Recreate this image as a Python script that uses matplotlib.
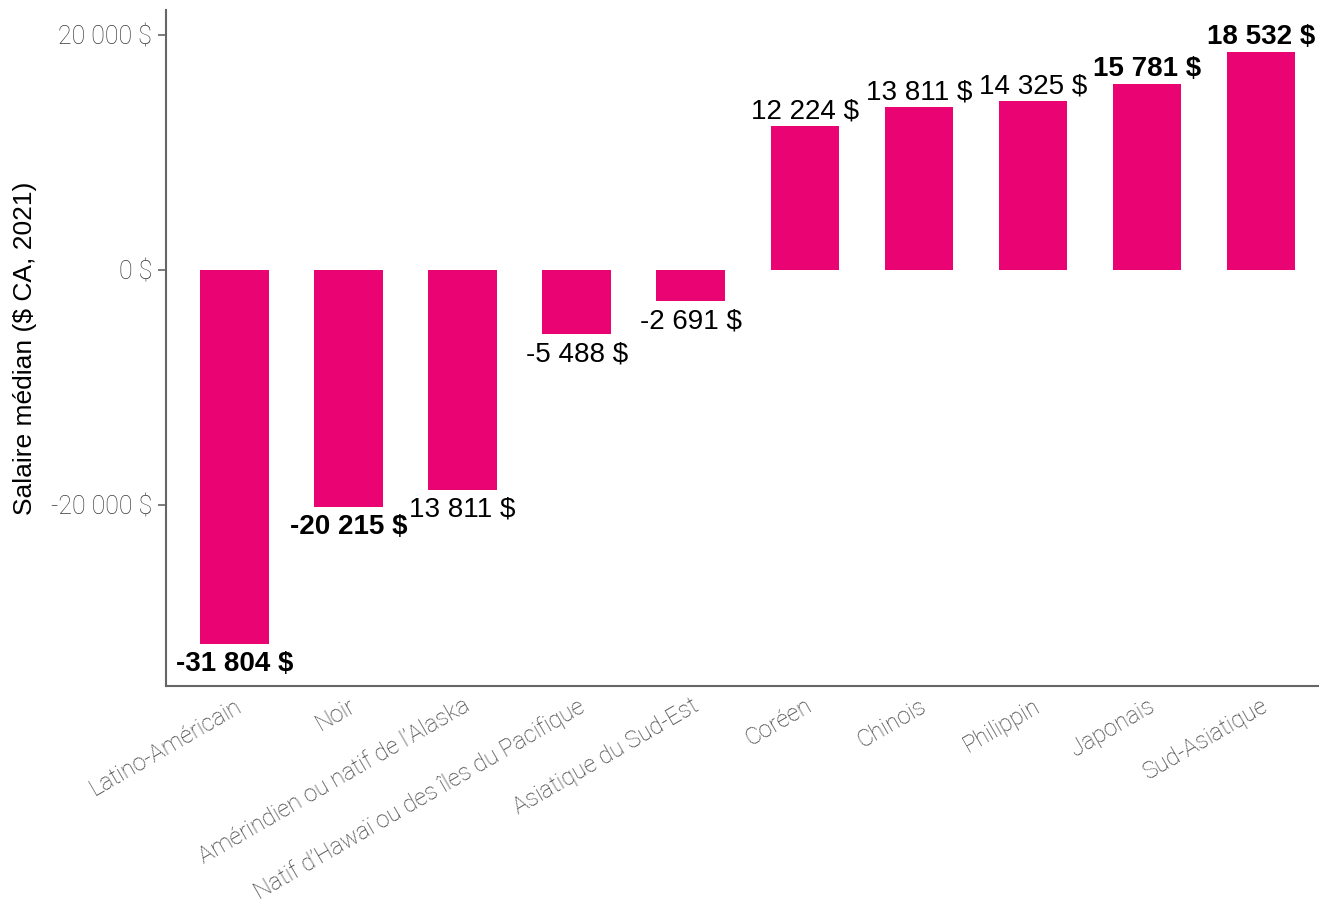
import matplotlib
matplotlib.use("Agg")
import matplotlib.pyplot as plt
import numpy as np

categories = ["Latino-Américain", "Noir", "Amérindien ou natif de l’Alaska",
              "Natif d’Hawaï ou des îles du Pacifique", "Asiatique du Sud-Est",
              "Coréen", "Chinois", "Philippin", "Japonais", "Sud-Asiatique"]
values = [-31804, -20215, -18700, -5488, -2691, 12224, 13811, 14325, 15781, 18532]
value_labels = ["-31 804 $", "-20 215 $", "13 811 $", "-5 488 $", "-2 691 $",
                "12 224 $", "13 811 $", "14 325 $", "15 781 $", "18 532 $"]
bold_labels = [True, True, False, False, False, False, False, False, True, True]
y_ticks = [-20000, 0, 20000]
y_tick_labels = ["-20 000 $", "0 $", "20 000 $"]

BAR = "#EA0372"
GREY = "#666666"
TICK_TXT = "#3a3a3a"

fig = plt.figure(figsize=(13.19, 9.09), dpi=100)
ax = fig.add_axes([0.1259, 0.2453, 0.8733, 0.7437])

x = np.arange(len(categories))
ax.bar(x, values, width=0.6, color=BAR, zorder=2)

for xi, v, lab, b in zip(x, values, value_labels, bold_labels):
    if v >= 0:
        off, va = 1.5, "bottom"
    else:
        off, va = -5, "top"
    ax.annotate(lab, (xi, v), xytext=(0, off), textcoords="offset points",
                ha="center", va=va, fontsize=20, family="Liberation Sans",
                fontweight="bold" if b else "normal", color="black")

ax.set_xlim(-0.6, 9.5)
ax.set_ylim(-35400, 22100)

ax.set_yticks(y_ticks)
ax.set_yticklabels(y_tick_labels, fontsize=18, color=TICK_TXT, family="Roboto",
                   fontweight="light")
ax.set_xticks(x)
ax.set_xticklabels(categories, rotation=30, ha="right", va="top",
                   rotation_mode="anchor", fontsize=17, color=TICK_TXT,
                   family="Roboto", fontweight="light")
ax.tick_params(axis="y", length=6, width=1.2, color=GREY, pad=4)
ax.tick_params(axis="x", length=0, pad=6)

for s in ["top", "right"]:
    ax.spines[s].set_visible(False)
for s in ["left", "bottom"]:
    ax.spines[s].set_color(GREY)
    ax.spines[s].set_linewidth(1.5)

ax.set_ylabel("Salaire médian ($ CA, 2021)", fontsize=19, family="Liberation Sans",
              color="black", labelpad=10)

fig.savefig("out.png", dpi=100)
